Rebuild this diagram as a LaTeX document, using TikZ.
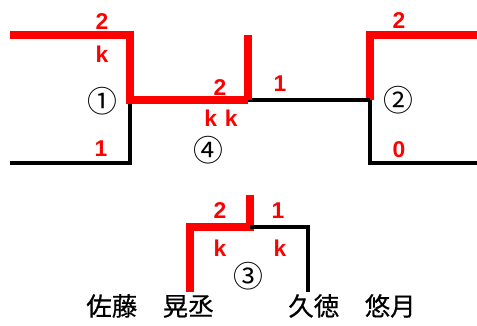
\documentclass[tikz,border=0pt]{standalone}
\usepackage{fontspec}
\setmainfont{Liberation Sans}
\newfontfamily\jpfont[FakeBold=0.6]{Noto Sans CJK JP}
\newfontfamily\circfont{Noto Sans CJK JP}
\usetikzlibrary{positioning}
\definecolor{winred}{HTML}{FF0000}

\begin{document}
\begin{tikzpicture}[x=0.02cm, y=-0.02cm,
      win/.style={draw=winred, line width=4pt, line join=miter},
      lose/.style={draw=black, line width=2pt, line join=miter},
      score/.style={text=winred, font=\fontsize{13}{14}\selectfont\bfseries, inner sep=0pt},
      num/.style={font=\circfont\fontsize{17}{18}\selectfont, inner sep=0pt},
      player/.style={font=\jpfont\fontsize{14.5}{16}\selectfont, inner sep=0pt},
    ]
    \useasboundingbox (0,0) rectangle (477,325);

    % ── entrants ──
    \coordinate (topL) at (10,35);
    \coordinate (botL) at (10,163);
    \coordinate (topR) at (477,35);
    \coordinate (botR) at (477,163);
    \node[player] (sato)    at (150,306) {佐藤　晃丞};
    \node[player] (kyutoku) at (352,306) {久徳　悠月};

    % ── match points ──
    \coordinate (m1)  at (130,100);
    \coordinate (m2)  at (370,100);
    \coordinate (m3)  at (250,227);
    \coordinate (m4)  at (248,100);
    \coordinate (fin) at (248,35);

    % ── match 1 ──
    \draw[lose] (botL) -| (m1);
    \draw[win]  (topL) -| (m1) -- (m4);

    % ── match 2 ──
    \draw[lose] (botR) -| (m2);
    \draw[win]  (topR) -| (m2);

    % ── match 4 ──
    \draw[lose] (m4) -- (m2);
    \draw[win]  (m4) -- (fin);

    % ── match 3 ──
    \draw[win]  (190,292) |- (m3) -- (250,195);
    \draw[lose] (m3) -| (308,292);

    % scores
    \node[score] (s1a) at (102,22)  {2};
    \node[score] (k1)  at (102,54)  {k};
    \node[score] (s1b) at (101,149) {1};
    \node[score] (s4a) at (220,88)  {2};
    \node[score] (k4)  at (221,118) {k\hspace{0.35em}k};
    \node[score] (s4b) at (280,84)  {1};
    \node[score] (s2a) at (399,21)  {2};
    \node[score] (s2b) at (399,150) {0};
    \node[score] (s3a) at (220,211) {2};
    \node[score] (s3b) at (278,211) {1};
    \node[score] (k3a) at (220,248) {k};
    \node[score] (k3b) at (280,248) {k};

    % match numbers
    \node[num] (n1) at (102,101) {①};
    \node[num] (n2) at (398,100) {②};
    \node[num] (n3) at (248,276) {③};
    \node[num] (n4) at (208,150) {④};
  \end{tikzpicture}
\end{document}
